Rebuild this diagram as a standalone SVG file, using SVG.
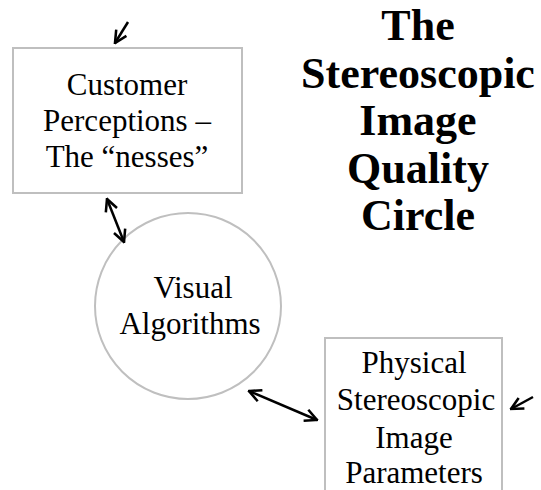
<svg xmlns="http://www.w3.org/2000/svg" width="541" height="490" viewBox="0 0 541 490">
<style>
.box{fill:#fff;stroke:#bfbfbf;stroke-width:2}
.t{font-family:"Liberation Serif","DejaVu Serif",serif;font-size:31px;fill:#000;text-anchor:middle}
.title{font-family:"Liberation Serif","DejaVu Serif",serif;font-size:44px;font-weight:bold;fill:#000;text-anchor:middle}
.c{stroke:#000;stroke-width:2.5;fill:none}
</style>
<defs>
<marker id="ah" viewBox="0 0 10 10" refX="9" refY="5" markerWidth="6" markerHeight="6" orient="auto-start-reverse" markerUnits="strokeWidth">
<polyline points="1,1 9,5 1,9" fill="none" stroke="#000" stroke-width="1.7"/>
</marker>
</defs>
<rect width="541" height="490" fill="#fff"/>
<g id="title">
<text class="title" x="418" y="40">The</text>
<text class="title" x="418" y="88">Stereoscopic</text>
<text class="title" x="418" y="135">Image</text>
<text class="title" x="418" y="183">Quality</text>
<text class="title" x="418" y="230">Circle</text>
</g>
<g id="customer">
<rect class="box" x="13" y="48" width="229" height="145"/>
<text class="t" x="127" y="95">Customer</text>
<text class="t" x="127" y="131">Perceptions –</text>
<text class="t" x="127" y="167">The “nesses”</text>
</g>
<g id="visual">
<circle cx="188" cy="306" r="93" fill="#fff" stroke="#bfbfbf" stroke-width="2"/>
<text class="t" x="193" y="298">Visual</text>
<text class="t" x="190" y="334">Algorithms</text>
</g>
<g id="physical">
<rect class="box" x="325" y="338" width="177" height="160"/>
<text class="t" x="414" y="373">Physical</text>
<text class="t" x="416" y="410">Stereoscopic</text>
<text class="t" x="414" y="448">Image</text>
<text class="t" x="414" y="483">Parameters</text>
</g>
<g id="connectors">
<line class="c" x1="128" y1="22" x2="115" y2="43" marker-end="url(#ah)"/>
<line class="c" x1="107" y1="199" x2="124" y2="242" marker-start="url(#ah)" marker-end="url(#ah)"/>
<line class="c" x1="249" y1="391" x2="317" y2="420" marker-start="url(#ah)" marker-end="url(#ah)"/>
<line class="c" x1="533" y1="397" x2="511" y2="409" marker-end="url(#ah)"/>
</g>
</svg>
